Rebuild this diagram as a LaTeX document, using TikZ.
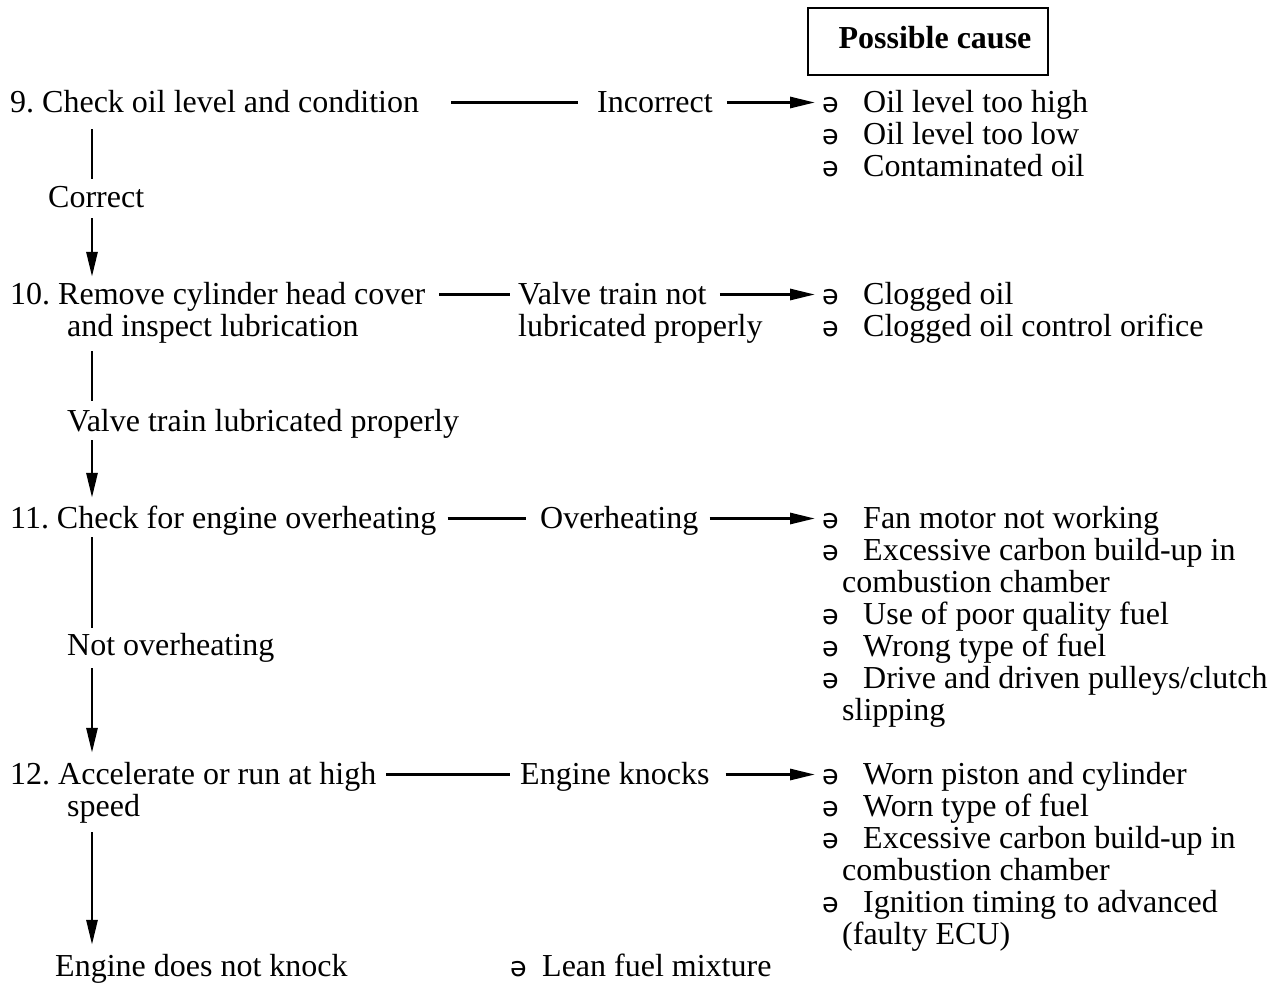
\documentclass[tikz,border=0pt]{standalone}
\usepackage{fontspec}
\setmainfont{Liberation Serif}
\newfontfamily\schwafont{DejaVu Sans}
\usetikzlibrary{arrows.meta}
\frenchspacing

\begin{document}
\begin{tikzpicture}[
  x=1pt,y=-1pt,
  txt/.style={anchor=base west,inner sep=0pt,text height=22pt,text depth=3pt,font=\fontsize{32}{32}\selectfont},
  bul/.style={txt,font=\schwafont\fontsize{27}{32}\selectfont},
  ln/.style={line width=2.9pt},
  ar/.style={ln,-{Triangle[length=25pt,width=11pt]}}
]
\useasboundingbox (0,0) rectangle (1281,983);
\coordinate (trunk) at (92,0);
% header
\node[draw,line width=1.6pt,minimum width=240pt,minimum height=67pt,inner sep=0pt,text height=22pt,text depth=8pt,font=\fontsize{32}{32}\selectfont\bfseries] (head) at (928,41.5) {\hspace*{14pt}Possible cause};
% checks
\node[txt] (s9) at (10,112) {9. Check oil level and condition};
\node[txt] (ok9) at (48,207) {Correct};
\node[txt] (s10) at (10,304) {10. Remove cylinder head cover};
\node[txt] (s10b) at (67,336) {and inspect lubrication};
\node[txt] (vl) at (67,431) {Valve train lubricated properly};
\node[txt] (s11) at (10,528) {11. Check for engine overheating};
\node[txt] (no) at (67,655) {Not overheating};
\node[txt] (s12) at (10,784) {12. Accelerate or run at high};
\node[txt] (s12b) at (67,816) {speed};
\node[txt] (fin) at (55,976) {Engine does not knock};
% results
\node[txt] (inc) at (597,112) {Incorrect};
\node[txt] (vt) at (518,304) {Valve train not};
\node[txt] (vtb) at (518,336) {lubricated properly};
\node[txt] (oh) at (540,528) {Overheating};
\node[txt] (ek) at (520,784) {Engine knocks};
% causes
\foreach \y/\s in {112/Oil level too high,144/Oil level too low,176/Contaminated oil,
  304/Clogged oil,336/Clogged oil control orifice,
  528/Fan motor not working,560/Excessive carbon build-up in,624/Use of poor quality fuel,
  656/Wrong type of fuel,688/{Drive and driven pulleys/clutch},
  784/Worn piston and cylinder,816/Worn type of fuel,848/Excessive carbon build-up in,
  912/Ignition timing to advanced}{
  \node[bul] (d\y) at (822,\y) {ə};
  \node[txt] (c\y) at (863,\y) {\s};
}
\foreach \y/\s in {592/combustion chamber,720/slipping,880/combustion chamber,944/(faulty ECU)}
  \node[txt] (c\y) at (842,\y) {\s};
\node[bul] (dlean) at (510,976) {ə};
\node[txt] (clean) at (542,976) {Lean fuel mixture};
% trunk
\draw[ln,shorten <=14pt,shorten >=6pt] (s9.south -| trunk) -- (ok9.north -| trunk);
\draw[ar,shorten <=8pt,shorten >=5pt] (ok9.south -| trunk) -- (s10.north -| trunk);
\draw[ln,shorten <=12pt,shorten >=8pt] (s10b.south -| trunk) -- (vl.north -| trunk);
\draw[ar,shorten <=6pt,shorten >=8pt] (vl.south -| trunk) -- (s11.north -| trunk);
\draw[ln,shorten <=6pt,shorten >=5pt] (s11.south -| trunk) -- (no.north -| trunk);
\draw[ar,shorten <=10pt,shorten >=9pt] (no.south -| trunk) -- (s12.north -| trunk);
\draw[ar,shorten <=13pt,shorten >=9pt] (s12b.south -| trunk) -- (fin.north -| trunk);
% branches
\draw[ln,shorten <=32pt,shorten >=19pt] (s9) -- (inc);
\draw[ar,shorten <=14pt,shorten >=7pt] (inc) -- (d112);
\draw[ln,shorten <=14pt,shorten >=8pt] (s10) -- (vt);
\draw[ar,shorten <=13pt,shorten >=7pt] (vt) -- (d304);
\draw[ln,shorten <=11pt,shorten >=14pt] (s11) -- (oh);
\draw[ar,shorten <=11pt,shorten >=7pt] (oh) -- (d528);
\draw[ln,shorten <=10pt,shorten >=10pt] (s12) -- (ek);
\draw[ar,shorten <=16pt,shorten >=7pt] (ek) -- (d784);
\end{tikzpicture}
\end{document}
